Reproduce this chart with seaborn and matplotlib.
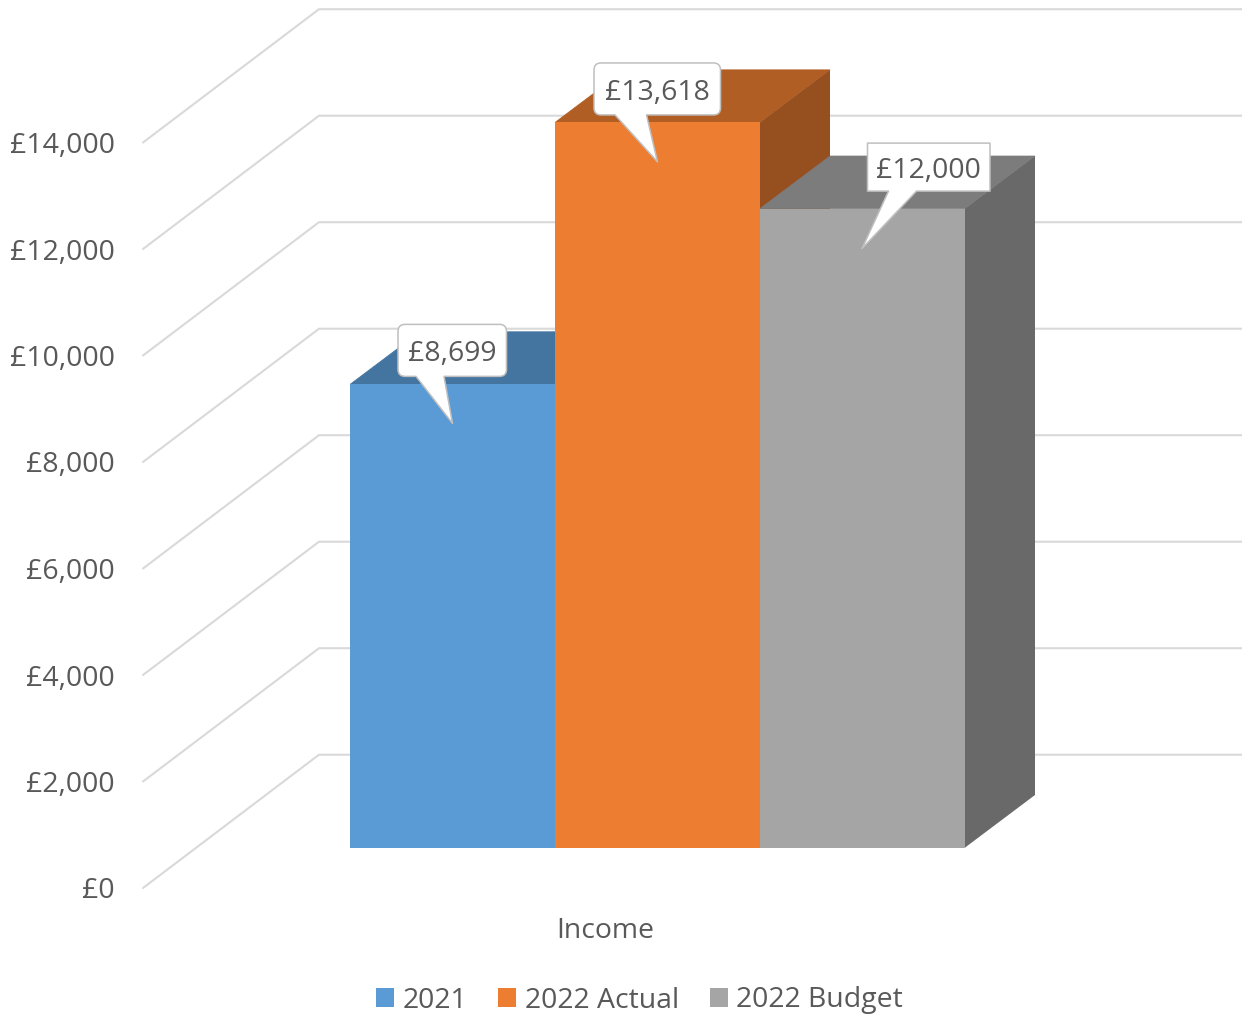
import numpy as np
import pandas as pd
import matplotlib
matplotlib.use("Agg")
import matplotlib.pyplot as plt
from matplotlib.patches import Polygon, PathPatch, Patch
from matplotlib.path import Path
from matplotlib.transforms import Affine2D, ScaledTranslation
import seaborn as sns

# ---- data ----
category = ["Income"]
series = ["2021", "2022 Actual", "2022 Budget"]
values = [8699, 13618, 12000]
ticks = [0, 2000, 4000, 6000, 8000, 10000, 12000, 14000]
tick_labels = ["£0", "£2,000", "£4,000", "£6,000", "£8,000", "£10,000", "£12,000", "£14,000"]
callout_labels = ["£8,699", "£13,618", "£12,000"]

# ---- styles ----
front_colors = ["#5B9BD5", "#ED7D31", "#A5A5A5"]
top_colors = ["#4475A0", "#B15E25", "#7C7C7C"]
side_colors = ["#38608A", "#964F1F", "#696969"]
TEXT = "#595959"
GRID = "#D9D9D9"
W, H = 1242, 1017
PX_PER_UNIT = 0.05325
BAR_BASE = 847.6        # pixel row of the bars' zero
WALL_BASE = 888.0       # pixel row of the axis zero
WALL_LEFT = 143
KNEE_X, KNEE_Y = 176, 133.3
BAR_LEFT, BAR_PX = 350, 205
DEPTH_X, DEPTH_Y = 70, 52.6
CATEGORY_LABEL_X = 462
# callout geometry in pixels relative to top centre of its bar (x right, y up)
boxes = [(-54.5, 54, 8, 60), (-63.5, 63, 7.5, 59.5), (5, 127.5, 17.5, 65.5)]
tails = [(-36.5, -8.5), (-42.5, -11), (26, 54)]
tip_drop = [39, 39.4, 40]
tip_dx = [0, 0, -0.5]
radii = [7, 7, 0]

sns.set_theme(style="white")
plt.rcParams["font.family"] = ["Open Sans", "DejaVu Sans"]
FS = 20.4

fig = plt.figure(figsize=(W / 100, H / 100), dpi=100, facecolor="white")

# ---- back wall / side wall with axis ----
ax_wall = fig.add_axes([WALL_LEFT / W, 1 - WALL_BASE / H, (W - WALL_LEFT) / W, WALL_BASE / H])
ax_wall.set_xlim(0, W - WALL_LEFT)
ax_wall.set_ylim(0, WALL_BASE / PX_PER_UNIT)
for t in ticks:
    up = t + KNEE_Y / PX_PER_UNIT
    ax_wall.plot([0, KNEE_X, W - WALL_LEFT], [t, up, up], color=GRID, lw=1.5,
                 solid_joinstyle="miter", clip_on=False, zorder=1)
sns.despine(ax=ax_wall, left=True, bottom=True)
ax_wall.set_yticks(ticks, tick_labels, fontsize=FS, color=TEXT)
ax_wall.set_xticks([CATEGORY_LABEL_X], category, fontsize=FS, color=TEXT)
ax_wall.tick_params(axis="y", length=0, pad=20.5)
ax_wall.tick_params(axis="x", length=0, pad=21)
ax_wall.grid(False)

# ---- bars (front plane) ----
ax = fig.add_axes([0, 0, 1, 1])
ax.patch.set_alpha(0)
df = pd.DataFrame({"category": category * len(series), "series": series, "value": values})
sns.barplot(data=df, x="category", y="value", hue="series", hue_order=series,
            palette=front_colors, saturation=1, width=0.8, dodge=True,
            linewidth=0, legend=False, ax=ax)
unit = 3 * BAR_PX / 0.8
centre = BAR_LEFT + 1.5 * BAR_PX
ax.set_xlim(-centre / unit, (W - centre) / unit)
ax.set_ylim((BAR_BASE - H) / PX_PER_UNIT, BAR_BASE / PX_PER_UNIT)
ax.axis("off")

dx = DEPTH_X / unit
dy = DEPTH_Y / PX_PER_UNIT
for i, container in enumerate(ax.containers):
    bar = container[0]
    x0, x1 = bar.get_x(), bar.get_x() + bar.get_width()
    v = bar.get_height()
    bar.set_zorder(3 + 2 * i)
    bar.set_edgecolor("none")
    ax.add_patch(Polygon([(x0, v), (x0 + dx, v + dy), (x1 + dx, v + dy), (x1, v)],
                         closed=True, fc=top_colors[i], ec=top_colors[i], lw=0.5, zorder=2 + 2 * i))
    ax.add_patch(Polygon([(x1, 0), (x1 + dx, dy), (x1 + dx, v + dy), (x1, v)],
                         closed=True, fc=side_colors[i], ec="none", zorder=2 + 2 * i))


def callout_path(box, tail, tip, r):
    l, rt, b, t = box
    v = [(tail[0], b), tip, (tail[1], b), (rt - r, b)]
    c = [Path.MOVETO, Path.LINETO, Path.LINETO, Path.LINETO]
    corners = [((rt, b), (rt, b + r)), ((rt, t), (rt - r, t)),
               ((l, t), (l, t - r)), ((l, b), (l + r, b))]
    follow = [(rt, t - r), (l + r, t), (l, b + r), None]
    for (corner, end), nxt in zip(corners, follow):
        if r:
            v += [corner, end]
            c += [Path.CURVE3, Path.CURVE3]
        else:
            v.append(corner)
            c.append(Path.LINETO)
        if nxt is not None:
            v.append(nxt)
            c.append(Path.LINETO)
    v += [(tail[0], b), (tail[0], b)]
    c += [Path.LINETO, Path.CLOSEPOLY]
    return Path(v, c)


# ---- callouts ----
for i, container in enumerate(ax.containers):
    bar = container[0]
    cx = bar.get_x() + bar.get_width() / 2
    anchor = ScaledTranslation(cx, bar.get_height(), ax.transData)
    path = callout_path(boxes[i], tails[i], (tip_dx[i], -tip_drop[i]), radii[i])
    ax.add_patch(PathPatch(path, fc="white", ec="#BFBFBF", lw=1.1, joinstyle="round",
                           transform=Affine2D() + anchor, zorder=20))
    l, rt, b, t = boxes[i]
    ax.text((l + rt) / 2, (b + t) / 2 - 0.6, callout_labels[i], transform=Affine2D() + anchor,
            ha="center", va="center_baseline", fontsize=FS, color=TEXT, zorder=21)

# ---- legend ----
handles = [Patch(fc=c, ec="none") for c in front_colors]
fig.legend(handles, series, loc="center", bbox_to_anchor=(639.5 / W, 1 - 1000.5 / H), ncol=3,
           frameon=False, fontsize=FS, labelcolor=TEXT, handlelength=0.63, handleheight=0.63,
           handletextpad=0.3, columnspacing=1.1, borderpad=0, borderaxespad=0)

fig.savefig("out.png", dpi=100, facecolor="white")
